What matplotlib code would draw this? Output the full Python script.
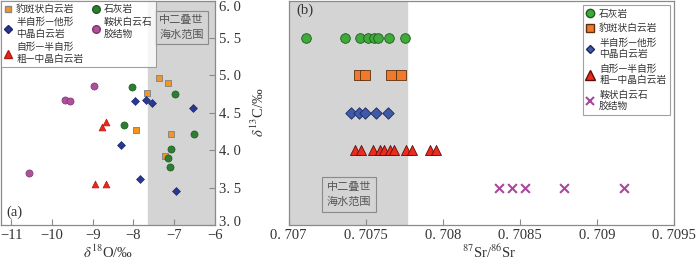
import matplotlib
matplotlib.use("Agg")
import matplotlib.pyplot as plt
import matplotlib.transforms as mtrans
from matplotlib.lines import Line2D

plt.rcParams['font.family'] = ['Liberation Serif', 'Noto Sans CJK SC']
plt.rcParams['mathtext.fontset'] = 'stix'

CJK = ['Noto Sans CJK SC', 'Liberation Serif']

# ---- panel (a): d18O vs d13C ----
a_leopard_x = [-7.36, -7.15, -7.66, -7.93, -7.07, -7.23]
a_leopard_y = [4.96, 4.90, 4.76, 4.27, 4.21, 3.92]
a_lime_x = [-8.03, -6.97, -8.24, -6.52, -7.07, -7.15, -7.10]
a_lime_y = [4.84, 4.75, 4.34, 4.22, 4.02, 3.90, 3.78]
a_semi_x = [-7.96, -7.68, -7.55, -6.54, -8.30, -7.84, -6.95]
a_semi_y = [4.66, 4.67, 4.63, 4.57, 4.07, 3.62, 3.46]
a_euh_x = [-8.77, -8.66, -8.95, -8.66]
a_euh_y = [4.31, 4.37, 3.55, 3.55]
a_saddle_x = [-8.96, -9.67, -9.56, -10.57]
a_saddle_y = [4.86, 4.67, 4.66, 3.69]
a_xticks = [-11, -10, -9, -8, -7, -6]
a_yticks = [3.0, 3.5, 4.0, 4.5, 5.0, 5.5, 6.0]
a_seawater = [-7.635, -6.0]

# ---- panel (b): 87Sr/86Sr by rock type ----
b_lime = [0.70711, 0.707364, 0.707463, 0.707517, 0.707554, 0.707582, 0.707651, 0.707754]
b_leopard = [0.707455, 0.707495, 0.707666, 0.707728]
b_semi = [0.707401, 0.707459, 0.707495, 0.707565, 0.707647]
b_euh = [0.707427, 0.707472, 0.707545, 0.707591, 0.707616, 0.707655,
         0.707686, 0.707761, 0.707798, 0.707918, 0.707953]
b_saddle = [0.708367, 0.708449, 0.708533, 0.708787, 0.709177]
b_xticks = [0.707, 0.7075, 0.708, 0.7085, 0.709, 0.7095]
b_seawater = [0.707, 0.70777]

labels = {
    'lime': '石灰岩',
    'leopard': '豹斑状白云岩',
    'semi': '半自形—他形\n中晶白云岩',
    'euh': '自形—半自形\n粗—中晶白云岩',
    'saddle': '鞍状白云石\n胶结物',
}

spine_c = '#8a8a8a'
gray_fill = '#d4d4d4'
txt_c = '#333333'

fig = plt.figure(figsize=(7.0, 2.61), dpi=100)

# ---------- (a) ----------
axa = fig.add_axes([0.0015, 0.138, 0.3055, 0.860])
axa.axvspan(a_seawater[0], a_seawater[1], color=gray_fill, zorder=0)
axa.scatter(a_leopard_x, a_leopard_y, marker='s', s=22, c='#f7941d', edgecolors='#888888', linewidths=0.7, zorder=3)
axa.scatter(a_lime_x, a_lime_y, marker='o', s=26, c='#2e7d32', edgecolors='#1d5a20', linewidths=0.5, zorder=3)
axa.scatter(a_semi_x, a_semi_y, marker='D', s=16, c='#2a3990', edgecolors='#1c2770', linewidths=0.5, zorder=3)
axa.scatter(a_euh_x, a_euh_y, marker='^', s=24, c='#e8261c', edgecolors='#b01a12', linewidths=0.5, zorder=3)
axa.scatter(a_saddle_x, a_saddle_y, marker='o', s=26, c='#b0509c', edgecolors='#7a3570', linewidths=0.5, zorder=3)
axa.set_xlim(-11.245, -6.0)
axa.set_ylim(3.0, 6.0)
axa.set_xticks(a_xticks)
axa.set_xticklabels(['\u221211', '\u221210', '\u22129', '\u22128', '\u22127', '\u22126'])
axa.set_yticks(a_yticks)
axa.set_yticklabels(['3. 0', '3. 5', '4. 0', '4. 5', '5. 0', '5. 5', '6. 0'])
axa.yaxis.tick_right()
axa.yaxis.set_label_position('right')
axa.tick_params(axis='both', direction='in', length=4, color=spine_c, labelsize=10.5, labelcolor=txt_c)
axa.tick_params(axis='y', pad=3)
axa.tick_params(axis='x', pad=3)
ylabs = axa.get_yticklabels()
up = mtrans.ScaledTranslation(0, 4 / 100, fig.dpi_scale_trans)
ylabs[0].set_transform(ylabs[0].get_transform() + up)
ylabs[-1].set_va('top')
for s in axa.spines.values():
    s.set_color(spine_c)
    s.set_linewidth(0.9)
axa.set_xlabel(r'$\delta^{18}$O/‰', fontsize=10.5, color=txt_c, labelpad=1)
axa.set_ylabel(r'$\delta^{13}$C/‰', fontsize=10.5, color=txt_c, labelpad=6)
axa.text(-11.12, 3.12, '(a)', fontsize=10.5, color=txt_c)
axa.text(-6.82, 5.64, '中二叠世\n海水范围', family=CJK, fontsize=8, color='#555555',
         ha='center', va='center', linespacing=1.5,
         bbox=dict(boxstyle='square,pad=0.4', fc=gray_fill, ec='#8a8a8a', lw=0.8))

ha_list = [
    Line2D([], [], ls='', marker='s', ms=5, mfc='#f7941d', mec='#888888'),
    Line2D([], [], ls='', marker='D', ms=4, mfc='#2a3990', mec='#1c2770'),
    Line2D([], [], ls='', marker='^', ms=5.5, mfc='#e8261c', mec='#b01a12'),
    Line2D([], [], ls='', marker='o', ms=5.5, mfc='#2e7d32', mec='#1d5a20'),
    Line2D([], [], ls='', marker='o', ms=5.5, mfc='#b0509c', mec='#7a3570'),
]
la = axa.legend(ha_list, [labels['leopard'], labels['semi'], labels['euh'], labels['lime'], labels['saddle']],
                ncol=2, loc='upper left', bbox_to_anchor=(0.0, 1.0), borderaxespad=0.0,
                prop={'family': CJK, 'size': 7}, frameon=True, fancybox=False,
                handlelength=0.8, handletextpad=0.4, columnspacing=0.9, labelspacing=0.35,
                borderpad=0.35)
la.get_frame().set_edgecolor('#8a8a8a')
la.get_frame().set_linewidth(0.8)
for t in la.get_texts():
    t.set_color(txt_c)

# ---------- (b) ----------
axb = fig.add_axes([0.4124, 0.138, 0.5506, 0.860])
axb.axvspan(b_seawater[0], b_seawater[1], color=gray_fill, zorder=0)
axb.scatter(b_lime, [5] * len(b_lime), marker='o', s=48, c='#3daa3a', edgecolors='#1f5a1d', linewidths=0.6, zorder=3)
axb.scatter(b_leopard, [4] * len(b_leopard), marker='s', s=48, c='#f07a2a', edgecolors='#5a3010', linewidths=0.6, zorder=3)
axb.scatter(b_semi, [3] * len(b_semi), marker='D', s=34, c='#3f5aa8', edgecolors='#1c2a60', linewidths=0.6, zorder=3)
axb.scatter(b_euh, [2] * len(b_euh), marker='^', s=52, c='#ee2a1e', edgecolors='#5a100a', linewidths=0.6, zorder=3)
axb.scatter(b_saddle, [1] * len(b_saddle), marker='x', s=40, c='#a8479c', linewidths=1.5, zorder=3)
axb.set_xlim(0.707, 0.7095)
axb.set_ylim(0, 6)
axb.set_yticks([])
axb.set_xticks(b_xticks)
axb.set_xticklabels(['0. 707', '0. 7075', '0. 708', '0. 7085', '0. 709', '0. 7095'])
axb.tick_params(axis='x', direction='in', length=4, color=spine_c, labelsize=10.5, labelcolor=txt_c, pad=3)
for s in axb.spines.values():
    s.set_color(spine_c)
    s.set_linewidth(0.9)
axb.set_xlabel(r'$^{87}$Sr/$^{86}$Sr', fontsize=10.5, color=txt_c, labelpad=1, x=0.52)
axb.text(0.70705, 5.65, '(b)', fontsize=10.5, color=txt_c)
axb.text(0.70739, 0.82, '中二叠世\n海水范围', family=CJK, fontsize=8, color='#555555',
         ha='center', va='center', linespacing=1.5,
         bbox=dict(boxstyle='square,pad=0.45', fc=gray_fill, ec='#8a8a8a', lw=0.8))

hb_list = [
    Line2D([], [], ls='', marker='o', ms=6, mfc='#3daa3a', mec='#1f5a1d'),
    Line2D([], [], ls='', marker='s', ms=6, mfc='#f07a2a', mec='#5a3010'),
    Line2D([], [], ls='', marker='D', ms=4.5, mfc='#3f5aa8', mec='#1c2a60'),
    Line2D([], [], ls='', marker='^', ms=6.5, mfc='#ee2a1e', mec='#5a100a'),
    Line2D([], [], ls='', marker='x', ms=6, mec='#a8479c', mew=1.5),
]
lb = axb.legend(hb_list, [labels['lime'], labels['leopard'], labels['semi'], labels['euh'], labels['saddle']],
                loc='upper right', bbox_to_anchor=(0.99, 0.98), borderaxespad=0.0,
                prop={'family': CJK, 'size': 7}, frameon=True, fancybox=False,
                handlelength=0.8, handletextpad=0.5, labelspacing=0.45, borderpad=0.4)
lb.get_frame().set_edgecolor('#8a8a8a')
lb.get_frame().set_linewidth(0.8)
for t in lb.get_texts():
    t.set_color(txt_c)

fig.savefig('out.png', dpi=100)
